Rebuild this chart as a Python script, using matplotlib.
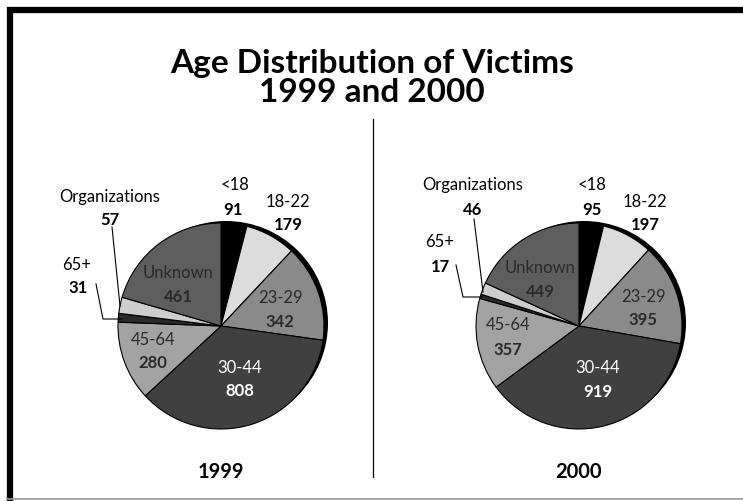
import matplotlib
matplotlib.use("Agg")
import matplotlib.pyplot as plt
from matplotlib.patches import Circle
from matplotlib.lines import Line2D

plt.rcParams['font.family'] = ['Lato', 'DejaVu Sans']

W, H = 743, 502

categories = ["<18", "18-22", "23-29", "30-44", "45-64", "65+", "Organizations", "Unknown"]
values_1999 = [91, 179, 342, 808, 280, 31, 57, 461]
values_2000 = [95, 197, 395, 919, 357, 17, 46, 449]
years = ["1999", "2000"]

colors = ["#000000", "#dcdcdc", "#8a8a8a", "#404040", "#a3a3a3", "#2a2a2a", "#cdcdcd", "#5e5e5e"]
text_colors = {"23-29": "#2a2a2a", "30-44": "white", "45-64": "#2a2a2a", "Unknown": "#2a2a2a"}

fig = plt.figure(figsize=(W / 100, H / 100), dpi=100)
ax = fig.add_axes([0, 0, 1, 1])


def Y(y):
    return H - y


# label positions (image px): name, value
label_pos = {
    "1999": {
        "<18": ((235, 185), (233, 210)),
        "18-22": ((288, 202), (288, 225)),
        "23-29": ((280, 298), (280, 322)),
        "30-44": ((240, 368), (240, 391)),
        "45-64": ((153, 340), (153, 363)),
        "65+": ((77, 265), (78, 288)),
        "Organizations": ((110, 197), (110, 220)),
        "Unknown": ((178, 273), (178, 297)),
    },
    "2000": {
        "<18": ((592, 185), (592, 210)),
        "18-22": ((645, 202), (645, 225)),
        "23-29": ((643, 297), (643, 320)),
        "30-44": ((598, 368), (598, 392)),
        "45-64": ((508, 325), (508, 350)),
        "65+": ((440, 242), (440, 267)),
        "Organizations": ((473, 185), (473, 210)),
        "Unknown": ((540, 268), (540, 292)),
    },
}
leaders = {
    "1999": [[(112, 228), (120, 307)], [(96, 285), (103, 320), (122, 320)]],
    "2000": [[(474, 220), (483, 293)], [(456, 266), (463, 298), (482, 298)]],
}
centers = {"1999": (221, 327), "2000": (579, 327)}
R = 103

for yr, vals in zip(years, [values_1999, values_2000]):
    cx, cy = centers[yr]
    # dark rim shadow
    ax.add_patch(Circle((cx + 5, Y(cy) + 3), R - 1, facecolor="black", edgecolor="none", zorder=1))
    ax.pie(vals, colors=colors, startangle=90, counterclock=False, radius=R,
           center=(cx, Y(cy)), wedgeprops=dict(edgecolor="black", linewidth=0.8),
           frame=False)
    for cat in categories:
        (nx, ny), (vx, vy) = label_pos[yr][cat]
        tc = text_colors.get(cat, "black")
        v = vals[categories.index(cat)]
        ax.text(nx, Y(ny), cat, ha="center", va="center", fontsize=12, color=tc, zorder=5)
        ax.text(vx, Y(vy), str(v), ha="center", va="center", fontsize=12,
                fontweight="bold", color=tc, zorder=5)
    for pts in leaders[yr]:
        xs = [p[0] for p in pts]
        ys = [Y(p[1]) for p in pts]
        ax.add_line(Line2D(xs, ys, color="black", linewidth=0.8, zorder=5))
    ax.text(cx, Y(472), yr, ha="center", va="center", fontsize=14.5, fontweight="bold")

# title
ax.text(372, Y(64), "Age Distribution of Victims", ha="center", va="center",
        fontsize=24, fontweight="bold")
ax.text(372, Y(93), "1999 and 2000", ha="center", va="center",
        fontsize=24, fontweight="bold")

# divider
ax.add_line(Line2D([373, 373], [Y(120), Y(478)], color="black", linewidth=0.9))

# frame
ax.add_line(Line2D([9.5, 9.5], [Y(8), Y(502)], color="black", linewidth=4.5, solid_capstyle="butt"))
ax.add_line(Line2D([7, 743], [Y(10.5), Y(10.5)], color="black", linewidth=4.5, solid_capstyle="butt"))
ax.add_line(Line2D([7, 743], [Y(499.5), Y(499.5)], color="#999999", linewidth=1.2))

ax.set_xlim(0, W)
ax.set_ylim(0, H)
ax.set_aspect("equal")
ax.axis("off")

fig.savefig("out.png", dpi=100)
